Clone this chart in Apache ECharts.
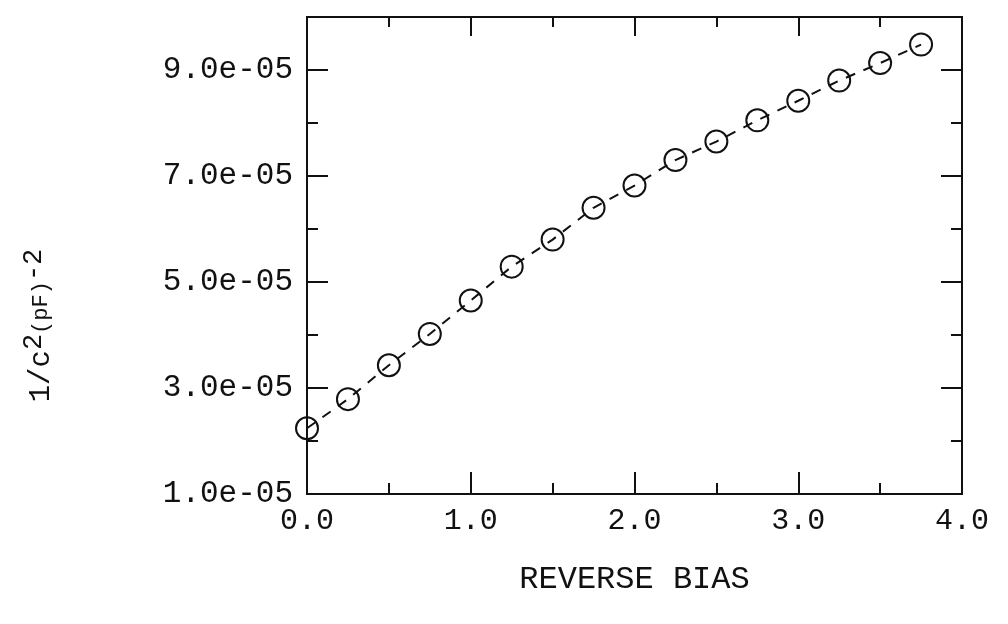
<!DOCTYPE html>
<html>
<head>
<meta charset="utf-8">
<script src="https://cdn.jsdelivr.net/npm/echarts@6/dist/echarts.min.js"></script>
<style>
  html, body { margin: 0; padding: 0; background: #fff; }
  #chart { width: 1008px; height: 624px; }
</style>
</head>
<body>
<div id="chart"></div>
<script>
// reverse bias (V) and 1/C^2 readings
const biasV = [0, 0.25, 0.5, 0.75, 1.0, 1.25, 1.5, 1.75, 2.0, 2.25, 2.5, 2.75, 3.0, 3.25, 3.5, 3.75]
const invC2 = [2.24e-5, 2.79e-5, 3.43e-5, 4.02e-5, 4.65e-5, 5.29e-5, 5.80e-5, 6.40e-5,
	6.82e-5, 7.30e-5, 7.65e-5, 8.05e-5, 8.42e-5, 8.80e-5, 9.13e-5, 9.48e-5]

const xLabelTicks = [0, 1, 2, 3, 4]
const yLabelTicks = [1e-5, 3e-5, 5e-5, 7e-5, 9e-5]

const FONT = "Liberation Mono"
const INK = "#111"

const near = (list, v, eps) => list.some(t => Math.abs(t - v) < eps)

const chart = echarts.init(document.getElementById("chart"))

// onZero off, otherwise the right/top axes jump to the zero line
const lineAx = { show: true, onZero: false, lineStyle: { color: INK, width: 2 } }

// short ticks axis + long ticks axis on each side
const xAxisBase = (pos, len, interval, labels) => ({
	type: "value",
	position: pos,
	min: 0,
	max: 4,
	interval: interval,
	axisLine: lineAx,
	axisTick: { show: true, inside: true, length: len, lineStyle: { color: INK, width: 2 } },
	splitLine: { show: false },
	axisLabel: labels ? {
		show: true,
		fontFamily: FONT,
		fontSize: 30,
		color: INK,
		margin: 12,
		formatter: v => near(xLabelTicks, v, 1e-6) ? v.toFixed(1) : ""
	} : { show: false }
})

const yAxisBase = (pos, len, labels) => ({
	type: "value",
	position: pos,
	min: 1e-5,
	max: 1e-4,
	interval: 1e-5,
	axisLine: lineAx,
	axisTick: { show: true, inside: true, length: len, lineStyle: { color: INK, width: 2 } },
	splitLine: { show: false },
	axisLabel: labels ? {
		show: true,
		fontFamily: FONT,
		fontSize: 31,
		color: INK,
		margin: 14,
		formatter: v => near(yLabelTicks, v, 1e-9) ? (v / 1e-5).toFixed(1) + "e-05" : ""
	} : { show: false }
})

// long ticks at 1,3,5,7,9e-5 : axis in steps of 2e-5 starting from 1e-5
const yLongAxis = (pos) => ({
	type: "value",
	position: pos,
	min: 0,
	max: 4.5,
	interval: 1,
	axisLine: lineAx,
	axisTick: { show: true, inside: true, length: 21, lineStyle: { color: INK, width: 2 } },
	splitLine: { show: false },
	axisLabel: { show: false }
})

const xMain = xAxisBase("bottom", 11, 0.5, true)
xMain.name = "REVERSE BIAS"
xMain.nameLocation = "middle"
xMain.nameGap = 70
xMain.nameTextStyle = { fontFamily: FONT, fontSize: 32, color: INK }

const yMain = yAxisBase("left", 11, true)
yMain.name = "1/c{sup|2}{small|(pF)}{sup|-2}"
yMain.nameLocation = "middle"
yMain.nameGap = 244
yMain.nameRotate = 90
yMain.nameTextStyle = {
	fontFamily: FONT,
	fontSize: 29,
	color: INK,
	padding: [0, 140, 0, 0],
	rich: {
		sup: { fontFamily: FONT, fontSize: 27, color: INK, verticalAlign: "top", padding: [0, 0, 16, 0] },
		small: { fontFamily: FONT, fontSize: 22, color: INK, verticalAlign: "middle" }
	}
}

const option = {
	animation: false,
	backgroundColor: "#fff",
	grid: { left: 307, right: 46, top: 17, bottom: 130, containLabel: false },
	xAxis: [
		xMain,
		xAxisBase("bottom", 22, 1, false),
		xAxisBase("top", 10, 0.5, false),
		xAxisBase("top", 19, 1, false)
	],
	yAxis: [
		yMain,
		yLongAxis("left"),
		yAxisBase("right", 11, false),
		yLongAxis("right")
	],
	series: [{
		type: "line",
		xAxisIndex: 0,
		yAxisIndex: 0,
		data: biasV.map((x, i) => [x, invC2[i]]),
		symbol: "circle",
		symbolSize: 22,
		showAllSymbol: true,
		lineStyle: { color: INK, width: 2, type: [10, 9] },
		itemStyle: { color: "rgba(0,0,0,0)", borderColor: INK, borderWidth: 2 },
		emphasis: { disabled: true }
	}]
}

chart.setOption(option)
window.addEventListener("resize", () => chart.resize())
</script>
</body>
</html>
